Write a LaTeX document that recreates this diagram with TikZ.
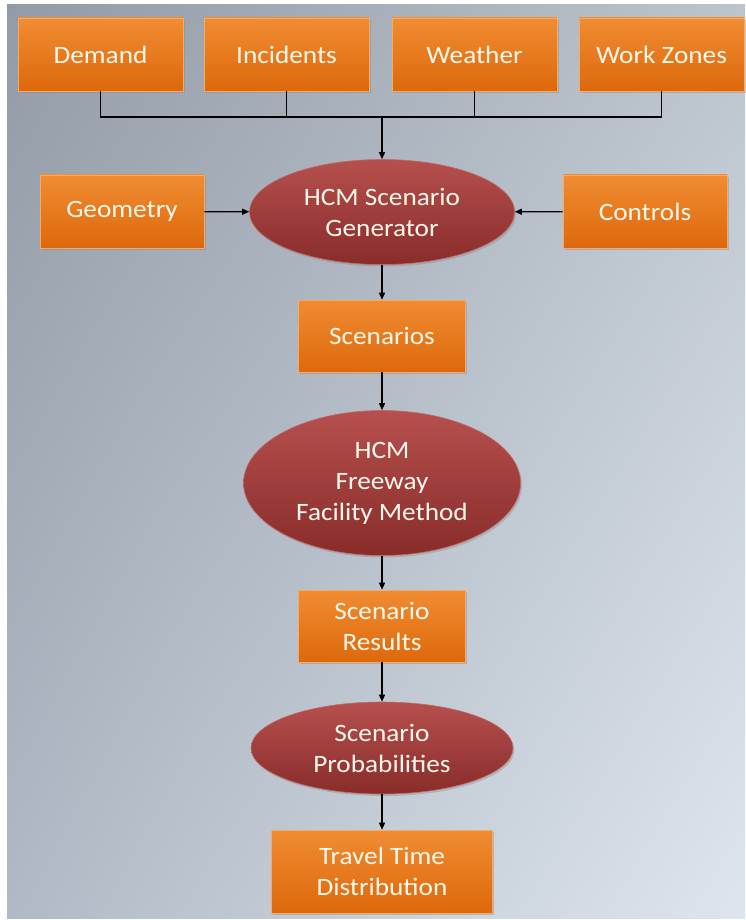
\documentclass[tikz,border=0pt]{standalone}
\usepackage{fontspec}
\setmainfont{Carlito}[FakeStretch=1.09]
\usepackage{tikz}
\usetikzlibrary{shadows,shadings,arrows.meta,positioning,calc,shapes}
\definecolor{boxtop}{RGB}{240,140,50}
\definecolor{boxbot}{RGB}{222,104,12}
\definecolor{boxrim}{RGB}{246,170,100}
\definecolor{ovaltop}{RGB}{182,80,78}
\definecolor{ovalbot}{RGB}{136,44,42}
\definecolor{ovalrim}{RGB}{196,104,102}
\definecolor{labelwhite}{RGB}{255,248,236}
\definecolor{bgul}{RGB}{146,155,166}
\definecolor{bgur}{RGB}{188,196,205}
\definecolor{bgll}{RGB}{176,186,198}
\definecolor{bglr}{RGB}{222,229,237}

\begin{document}
\begin{tikzpicture}[x=1pt,y=-1pt,
    inbox/.style={rectangle, top color=boxtop, bottom color=boxbot, draw=boxrim, line width=0.6pt,
      text=labelwhite, align=center, inner sep=0pt,
      drop shadow={opacity=0.35, shadow xshift=1.5pt, shadow yshift=-2pt},
      font=\fontsize{25}{31}\selectfont},
    oval/.style={ellipse, top color=ovaltop, bottom color=ovalbot, draw=ovalrim, line width=0.6pt,
      text=labelwhite, align=center, inner sep=0pt,
      drop shadow={opacity=0.35, shadow xshift=1.5pt, shadow yshift=-2pt},
      font=\fontsize{25}{31}\selectfont},
    link/.style={line width=1.3pt, black},
    arr/.style={link, -{Triangle[length=7pt,width=6pt]}}]

  \useasboundingbox (0,0) rectangle (745,920);
  % backdrop
  \shade[upper left=bgul, upper right=bgur, lower left=bgll, lower right=bglr] (7,5) rectangle (745,918);

  % inputs on top
  \node[inbox, minimum width=165pt, minimum height=73pt] (demand) at (100.5,54.5) {Demand};
  \node[inbox, minimum width=165pt, minimum height=73pt] (incidents) at (286.5,54.5) {Incidents};
  \node[inbox, minimum width=165pt, minimum height=73pt] (weather) at (474.5,54.5) {Weather};
  \node[inbox, minimum width=165pt, minimum height=73pt] (workzones) at (661.5,54.5) {Work Zones};
  \coordinate (hub) at (382,117);

  % generator row
  \node[oval, minimum width=265pt, minimum height=105pt] (gen) at (382,212) {HCM Scenario\\Generator};
  \node[inbox, minimum width=164pt, minimum height=73pt] (geometry) at (122,211.5) {Geometry};
  \node[inbox, minimum width=164pt, minimum height=73pt] (controls) at (645,211.5) {Controls};

  % main chain
  \node[inbox, minimum width=167pt, minimum height=72pt] (scen) at (382,336) {Scenarios};
  \node[oval, minimum width=277pt, minimum height=145pt] (ffm) at (382,483) {HCM\\Freeway\\Facility Method};
  \node[inbox, minimum width=167pt, minimum height=72pt] (results) at (382,626) {Scenario\\Results};
  \node[oval, minimum width=262pt, minimum height=92pt] (prob) at (382,748) {Scenario\\Probabilities};
  \node[inbox, minimum width=221pt, minimum height=83pt] (travel) at (382,871.5) {Travel Time\\Distribution};

  \draw[link] (demand.south) |- (hub);
  \draw[link] (workzones.south) |- (hub);
  \draw[link] (incidents.south) -- (incidents.south |- hub);
  \draw[link] (weather.south) -- (weather.south |- hub);
  \draw[arr] (hub) -- (gen);
  \draw[arr] (geometry) -- (gen);
  \draw[arr] (controls) -- (gen);
  \draw[arr] (gen) -- (scen);
  \draw[arr] (scen) -- (ffm);
  \draw[arr] (ffm) -- (results);
  \draw[arr] (results) -- (prob);
  \draw[arr] (prob) -- (travel);
\end{tikzpicture}
\end{document}
